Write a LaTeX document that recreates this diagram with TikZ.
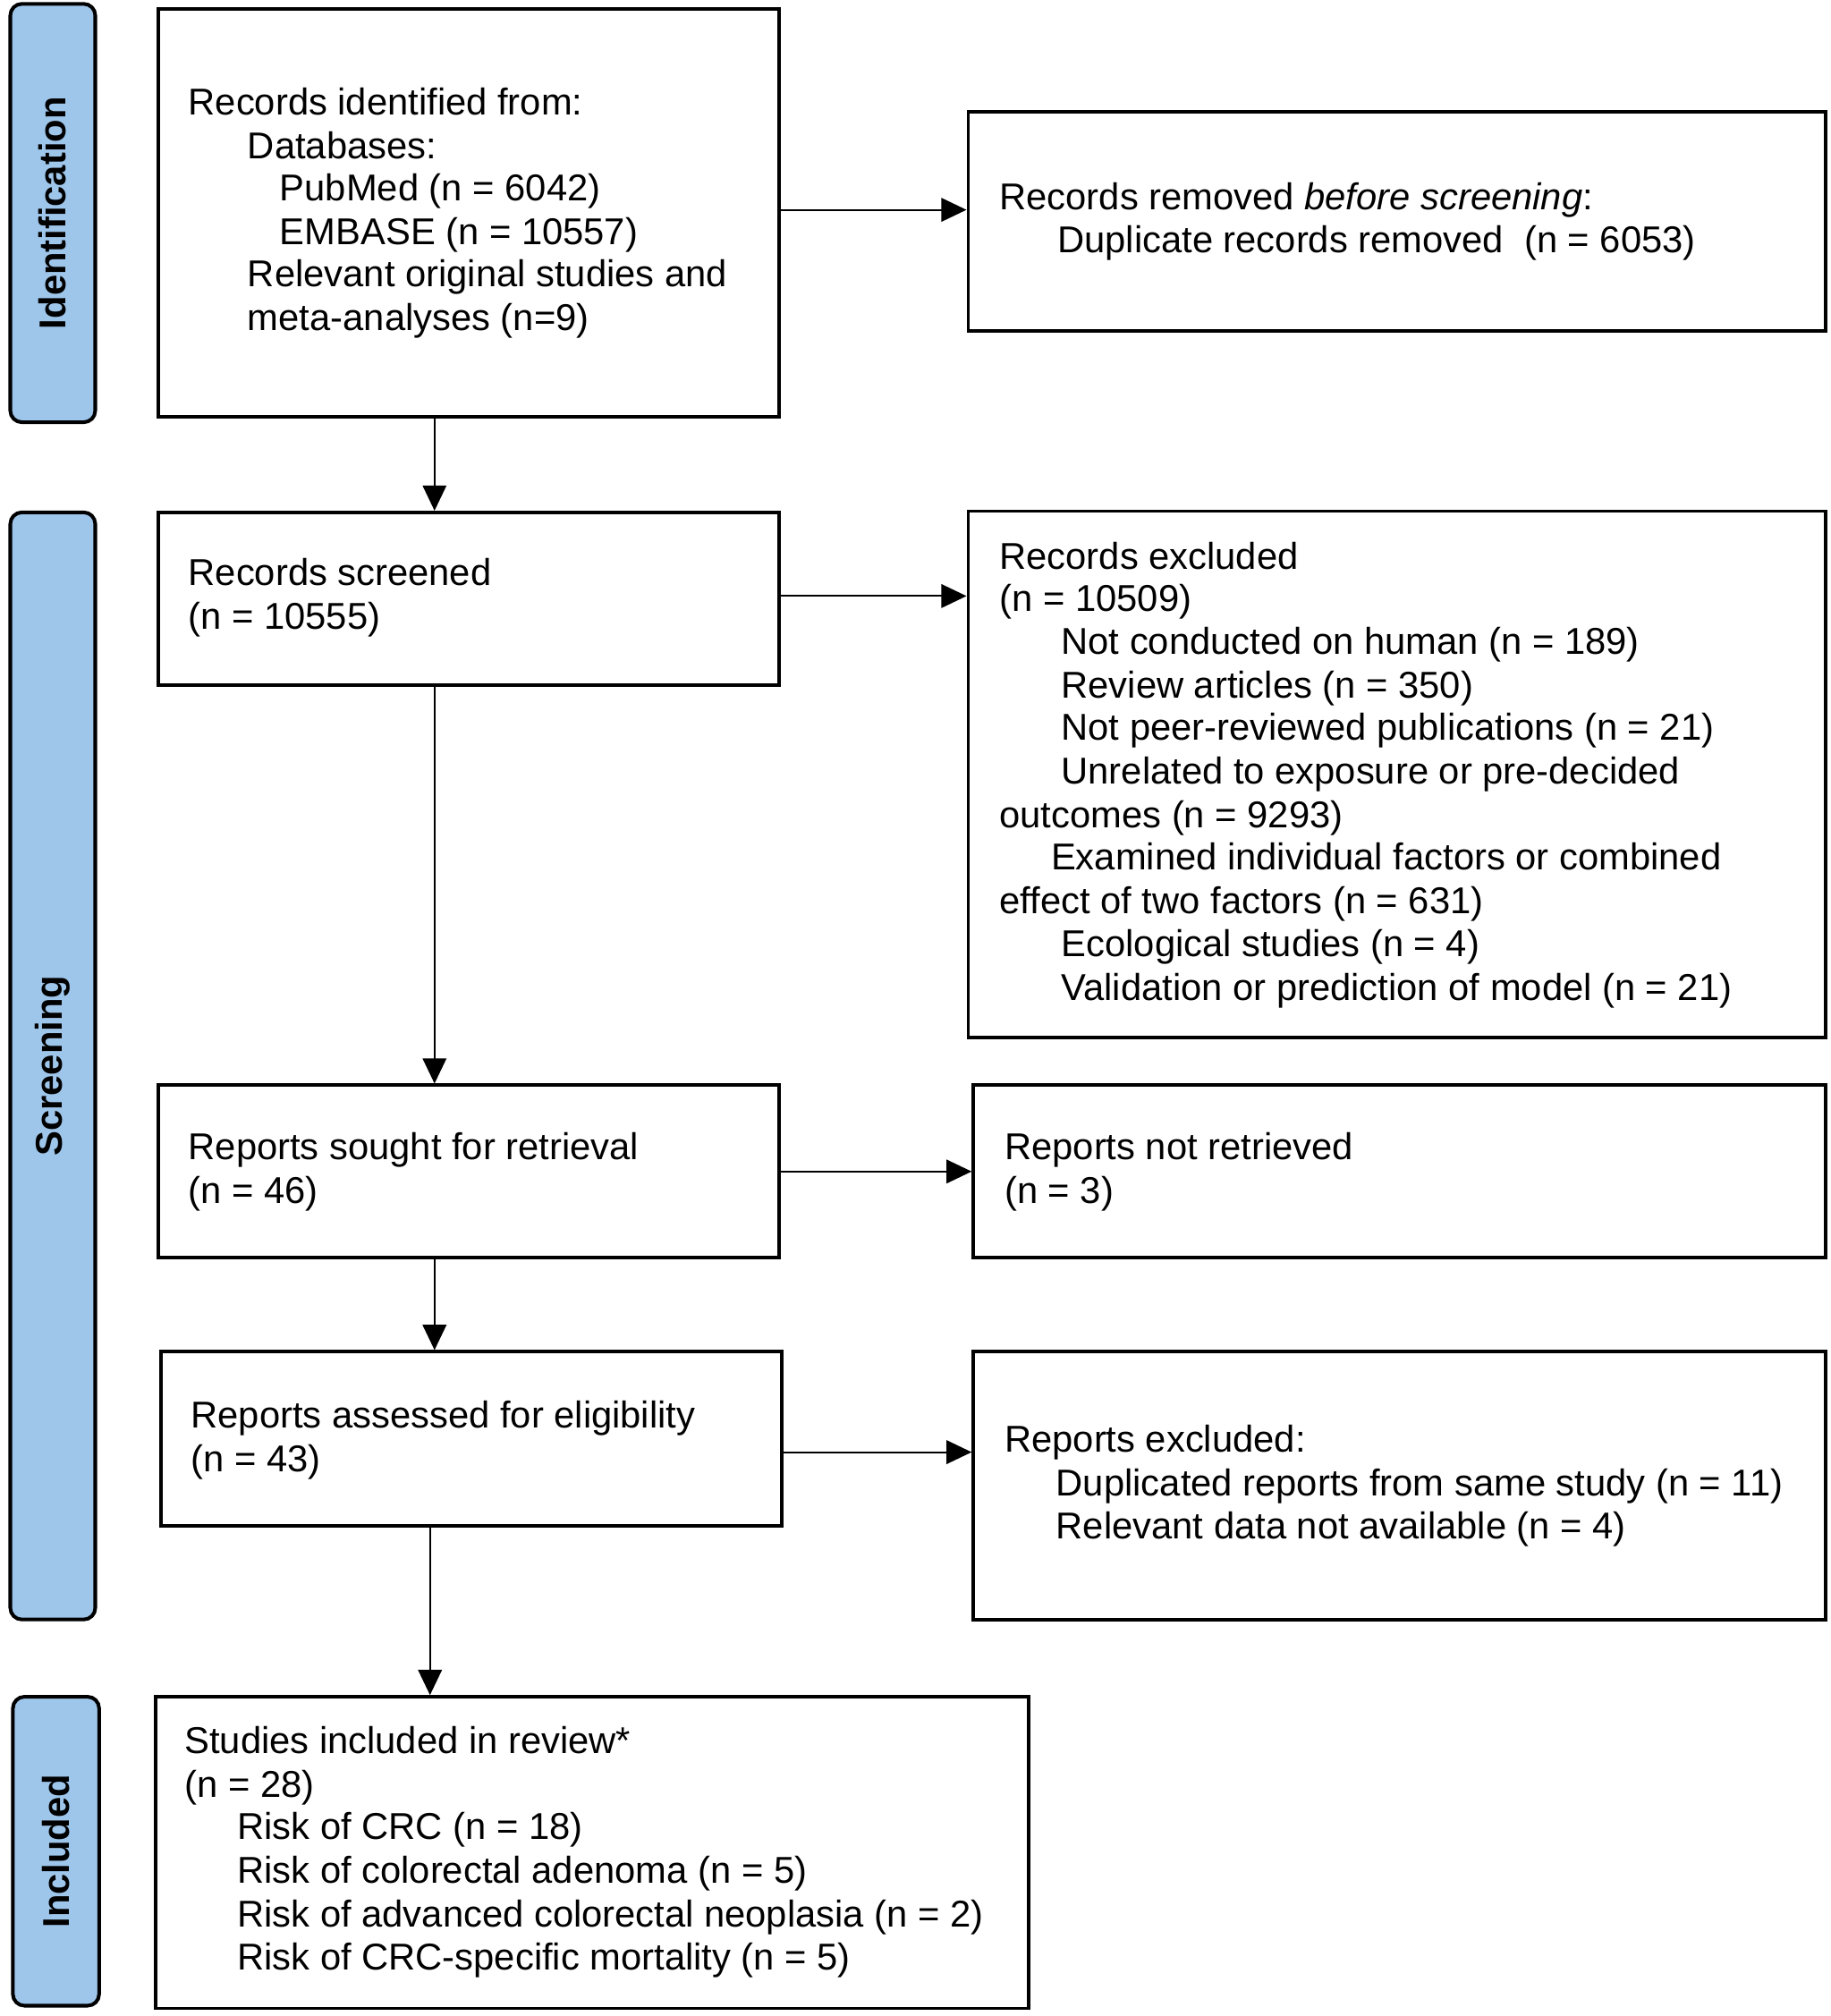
\documentclass[tikz,border=0pt]{standalone}
\usepackage{fontspec}
\setmainfont{Liberation Sans}
\usetikzlibrary{arrows.meta}
\definecolor{tabblue}{RGB}{158,197,234}
\begin{document}
\begin{tikzpicture}[x=0.5pt,y=-0.5pt,
  box/.style={draw=black, line width=1.3pt, fill=white, rectangle, inner sep=0pt},
  tab/.style={draw=black, line width=1.4pt, fill=tabblue, rounded corners=4.5pt, inner sep=0pt,
    font=\fontsize{14.5}{17}\selectfont\bfseries, rotate=90},
  txt/.style={anchor=base west, inner sep=0pt, font=\fontsize{14.5}{17}\selectfont},
  arr/.style={line width=0.7pt, -{Triangle[length=9.8pt,width=9.2pt]}}]
\useasboundingbox (0,0) rectangle (1422,1566);

% phase tabs
\node[tab, minimum width=162.5pt, minimum height=33pt] (t1) at (41,165.5) {Identification};
\node[tab, minimum width=430pt, minimum height=33pt] (t2) at (41,828) {Screening};
\node[tab, minimum width=120pt, minimum height=33.5pt] (t3) at (43.5,1438) {Included};

% boxes
\node[box, minimum width=241pt, minimum height=158.5pt] (b1) at (364,165.5) {};
\node[box, minimum width=333pt, minimum height=85pt] (b2) at (1085,172) {};
\node[box, minimum width=241pt, minimum height=67pt] (b3) at (364,465) {};
\node[box, minimum width=333pt, minimum height=204.5pt] (b4) at (1085,601.5) {};
\node[box, minimum width=241pt, minimum height=67pt] (b5) at (364,910) {};
\node[box, minimum width=331pt, minimum height=67pt] (b6) at (1087,910) {};
\node[box, minimum width=241pt, minimum height=67.5pt] (b7) at (366,1117.5) {};
\node[box, minimum width=331pt, minimum height=104pt] (b8) at (1087,1154) {};
\node[box, minimum width=339pt, minimum height=121pt] (b9) at (460,1439) {};

% box 1 text
\node[txt] (l1a) at (146,89) {Records identified from:};
\node[txt] (l1b) at (192,123) {Databases:};
\node[txt] (l1c) at (217,156) {PubMed (n = 6042)};
\node[txt] (l1d) at (217,190) {EMBASE (n = 10557)};
\node[txt] (l1e) at (192,223) {Relevant original studies and};
\node[txt] (l1f) at (192,257) {meta-analyses (n=9)};

% box 2 text
\node[txt] (l2a) at (776,163) {Records removed \textit{before screening}:};
\node[txt] (l2b) at (821,196) {Duplicate records removed\ \ (n = 6053)};

% box 3 text
\node[txt] (l3a) at (146,455) {Records screened};
\node[txt] (l3b) at (146,489) {(n = 10555)};

% box 4 text
\node[txt] (l4a) at (776,442) {Records excluded};
\node[txt] (l4b) at (776,475) {(n = 10509)};
\node[txt] (l4c) at (824,508) {Not conducted on human (n = 189)};
\node[txt] (l4d) at (824,542) {Review articles (n = 350)};
\node[txt] (l4e) at (824,575) {Not peer-reviewed publications (n = 21)};
\node[txt] (l4f) at (824,609) {Unrelated to exposure or pre-decided};
\node[txt] (l4g) at (776,643) {outcomes (n = 9293)};
\node[txt] (l4h) at (816,676) {Examined individual factors or combined};
\node[txt] (l4i) at (776,710) {effect of two factors (n = 631)};
\node[txt] (l4j) at (824,743) {Ecological studies (n = 4)};
\node[txt] (l4k) at (824,777) {Validation or prediction of model (n = 21)};

% box 5 text
\node[txt] (l5a) at (146,901) {Reports sought for retrieval};
\node[txt] (l5b) at (146,935) {(n = 46)};

% box 6 text
\node[txt] (l6a) at (780,901) {Reports not retrieved};
\node[txt] (l6b) at (780,935) {(n = 3)};

% box 7 text
\node[txt] (l7a) at (148,1109) {Reports assessed for eligibility};
\node[txt] (l7b) at (148,1143) {(n = 43)};

% box 8 text
\node[txt] (l8a) at (780,1128) {Reports excluded:};
\node[txt] (l8b) at (820,1162) {Duplicated reports from same study (n = 11)};
\node[txt] (l8c) at (820,1195) {Relevant data not available (n = 4)};

% box 9 text
\node[txt] (l9a) at (143,1362) {Studies included in review*};
\node[txt] (l9b) at (143,1396) {(n = 28)};
\node[txt] (l9c) at (184,1429) {Risk of CRC (n = 18)};
\node[txt] (l9d) at (184,1463) {Risk of colorectal adenoma (n = 5)};
\node[txt] (l9e) at (184,1497) {Risk of advanced colorectal neoplasia (n = 2)};
\node[txt] (l9f) at (184,1530) {Risk of CRC-specific mortality (n = 5)};

% connectors
\coordinate (cx) at (337.5,0);
\coordinate (cy) at (334,0);
\draw[arr] ([yshift=1.25pt]b1.east) -- ([yshift=1.25pt]b1.east -| b2.west);
\draw[arr] ([yshift=1pt]b3.east) -- ([yshift=1pt]b3.east -| b4.west);
\draw[arr] (b5.east) -- (b5.east -| b6.west);
\draw[arr] ([yshift=-5.25pt]b7.east) -- ([yshift=-5.25pt]b7.east -| b8.west);
\draw[arr] (b1.south -| cx) -- (b3.north -| cx);
\draw[arr] (b3.south -| cx) -- (b5.north -| cx);
\draw[arr] (b5.south -| cx) -- (b7.north -| cx);
\draw[arr] (b7.south -| cy) -- (b9.north -| cy);
\end{tikzpicture}
\end{document}
